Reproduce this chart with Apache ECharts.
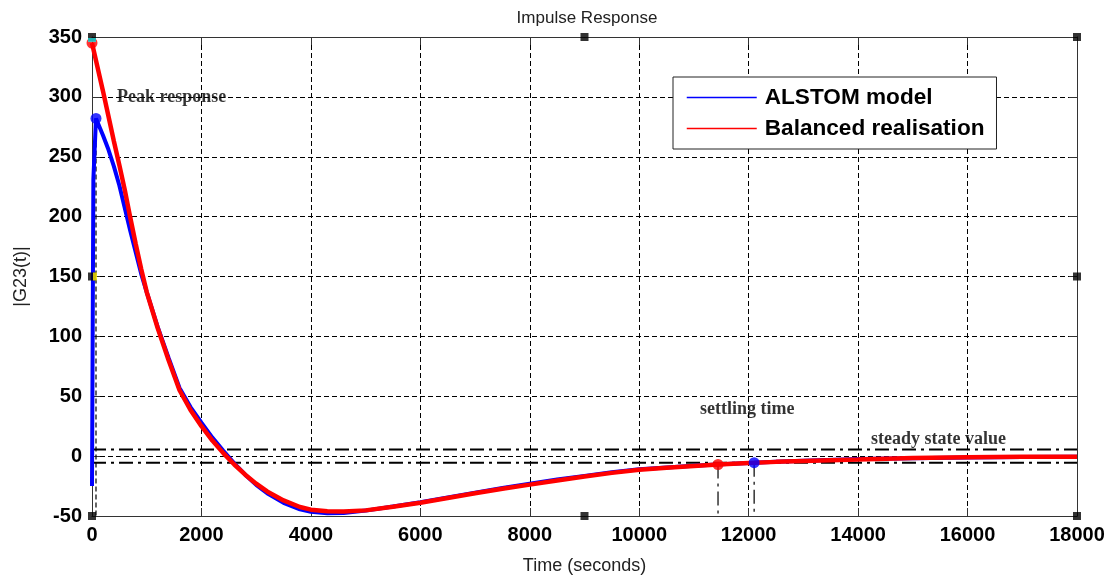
<!DOCTYPE html>
<html><head><meta charset="utf-8">
<script src="https://cdn.jsdelivr.net/npm/echarts@6/dist/echarts.min.js"></script>
<style>html,body{margin:0;padding:0;background:#fff}#c{width:1114px;height:581px}</style>
</head><body><div id="c"></div>
<script>
// ---- data ----
const xTicks = [0, 2000, 4000, 6000, 8000, 10000, 12000, 14000, 16000, 18000];
const yTicks = [-50, 0, 50, 100, 150, 200, 250, 300, 350];

const tRed = [0,100,200,300,400,500,600,700,800,900,1000,1200,1400,1600,1800,2000,2200,2400,2600,2800,3000,3200,3500,3800,4000,4300,4600,5000,5500,6000,6500,7000,7500,8000,8500,9000,9500,10000,10500,11000,11440,12000,12500,13000,14000,15000,16000,17000,18000];
const gRed = [345,325,305,284,263,243,222,199,177,156,137,107,80,55,38.5,25,13,2.5,-7,-15.5,-23,-29.5,-37,-42.5,-44.7,-46,-46.3,-45.3,-42.3,-39,-35,-31,-27.2,-23.8,-20.3,-17,-14,-11.3,-9.8,-8.3,-7,-5.8,-4.8,-4,-2.9,-1.6,-0.9,-0.6,-0.5];

const tBlue = [0,25,73,200,300,400,500,600,700,800,900,1000,1200,1400,1600,1800,2000,2200,2400,2600,2800,3000,3200,3500,3800,4000,4300,4600,5000,5500,6000,6500,7000,7500,8000,8500,9000,9500,10000,10500,11000,11500,12100,12500,13000,14000,15000,16000,17000,18000];
const gBlue = [-25,231,282,268,256,242,226,207,188,170,152,137,108,82,57,41,28,15.5,4.5,-6,-15.5,-24,-31,-39,-44.5,-46.5,-47.8,-47.5,-45.5,-42,-38.5,-34.5,-30.5,-26.5,-23,-19.5,-16.5,-13.5,-11,-9.5,-8,-6.7,-5.5,-4.6,-3.8,-2.5,-1.7,-1.2,-0.8,-0.5];

const peakRed = [0, 345];
const peakBlue = [73, 282];
const settleRed = [11440, -7];
const settleBlue = [12100, -5.5];
const bandHalf = 5.5;
const handles = [[0,350],[9000,350],[18000,350],[18000,150],[18000,-50],[9000,-50],[0,-50],[0,150]];
const noteText = ['Peak response', 'settling time', 'steady state value'];
const noteT = [457, 11110, 14236];
const noteG = [300, 39, 14];
const legendNames = ['ALSTOM model', 'Balanced realisation'];
const seriesColors = ['#0000ff', '#ff0000'];

// ---- build ----
const zip = (a, b) => a.map((v, i) => [v, b[i]]);
const xMin = xTicks[0], xMax = xTicks[xTicks.length - 1];
const yMin = yTicks[0], yMax = yTicks[yTicks.length - 1];
const dashDot = [14, 5, 3, 5];
const axisCol = '#333';

function guide(data, width, type) {
  return { type: 'line', data, symbol: 'none', silent: true, clip: false, z: 4,
    lineStyle: { color: '#000', width, type }, legendHoverLink: false, tooltip: { show: false } };
}

const chart = echarts.init(document.getElementById('c'), null, { renderer: 'canvas' });
chart.setOption({
  animation: false,
  backgroundColor: '#fff',
  title: { text: 'Impulse Response', left: 582, top: 5, textAlign: 'center',
    textStyle: { fontFamily: 'Liberation Sans, Arial', fontSize: 17, fontWeight: 'normal', color: '#222' } },
  grid: { left: 92, right: 37, top: 37, bottom: 65, show: false },
  legend: {
    data: legendNames,
    orient: 'vertical', left: 673, top: 77, itemWidth: 70, itemHeight: 14, itemGap: 8,
    lineStyle: { width: 1.5 },
    itemStyle: { opacity: 0 },
    padding: [9, 12, 9, 13], borderColor: '#222', borderWidth: 1, backgroundColor: '#fff',
    textStyle: { fontFamily: 'Liberation Sans, Arial', fontSize: 22.6, fontWeight: 'bold', color: '#000', lineHeight: 22, padding: [0, 0, 0, 3] },
    selectedMode: false
  },
  xAxis: [{
    type: 'value', min: xMin, max: xMax, interval: xTicks[1] - xTicks[0],
    name: 'Time (seconds)', nameLocation: 'middle', nameGap: 41,
    nameTextStyle: { fontFamily: 'Liberation Sans, Arial', fontSize: 18, color: '#222' },
    axisLine: { show: true, onZero: false, lineStyle: { color: axisCol, width: 1 } },
    axisTick: { show: true, inside: true, length: 8, lineStyle: { color: axisCol } },
    axisLabel: { margin: 9, fontFamily: 'Liberation Sans, Arial', fontSize: 20, fontWeight: 'bold', color: '#000', formatter: v => String(v) },
    splitLine: { show: true, lineStyle: { color: '#000', type: [5, 3], width: 1 } }
  }, {
    type: 'value', position: 'top', min: xMin, max: xMax, interval: xTicks[1] - xTicks[0],
    axisLine: { show: true, onZero: false, lineStyle: { color: axisCol, width: 1 } },
    axisTick: { show: true, inside: true, length: 8, lineStyle: { color: axisCol } },
    axisLabel: { show: false }, splitLine: { show: false }
  }],
  yAxis: [{
    type: 'value', min: yMin, max: yMax, interval: yTicks[1] - yTicks[0],
    name: '|G23(t)|', nameLocation: 'middle', nameGap: 62, nameRotate: 90,
    nameTextStyle: { fontFamily: 'Liberation Sans, Arial', fontSize: 18, color: '#222' },
    axisLine: { show: true, onZero: false, lineStyle: { color: axisCol, width: 1 } },
    axisTick: { show: true, inside: true, length: 8, lineStyle: { color: axisCol } },
    axisLabel: { margin: 10, fontFamily: 'Liberation Sans, Arial', fontSize: 20, fontWeight: 'bold', color: '#000' },
    splitLine: { show: true, lineStyle: { color: '#000', type: [5, 3], width: 1 } }
  }, {
    type: 'value', position: 'right', min: yMin, max: yMax, interval: yTicks[1] - yTicks[0],
    axisLine: { show: true, onZero: false, lineStyle: { color: axisCol, width: 1 } },
    axisTick: { show: true, inside: true, length: 8, lineStyle: { color: axisCol } },
    axisLabel: { show: false }, splitLine: { show: false }
  }],
  series: [
    guide([[xMin, bandHalf], [xMax, bandHalf]], 2, dashDot),
    guide([[xMin, -bandHalf], [xMax, -bandHalf]], 2, dashDot),
    guide([peakBlue, [peakBlue[0], yMin]], 1.2, [5, 3]),
    guide([settleRed, [settleRed[0], yMin]], 1.2, dashDot),
    guide([settleBlue, [settleBlue[0], yMin]], 1.2, dashDot),
    { name: legendNames[0], type: 'line', data: zip(tBlue, gBlue), symbol: 'none', z: 5, clip: false,
      color: seriesColors[0], itemStyle: { color: seriesColors[0] }, lineStyle: { color: seriesColors[0], width: 4 } },
    { name: legendNames[1], type: 'line', data: zip(tRed, gRed), symbol: 'none', z: 6, clip: false,
      color: seriesColors[1], itemStyle: { color: seriesColors[1] }, lineStyle: { color: seriesColors[1], width: 4.5 } },
    { type: 'scatter', data: [peakBlue, settleBlue], symbol: 'circle', symbolSize: 11, z: 7, clip: false,
      itemStyle: { color: seriesColors[0] }, silent: true },
    { type: 'scatter', data: [peakRed, settleRed], symbol: 'circle', symbolSize: 11, z: 8, clip: false,
      itemStyle: { color: seriesColors[1] }, silent: true },
    { type: 'scatter', data: handles, symbol: 'rect', symbolSize: 8, z: 9, clip: false,
      itemStyle: { color: '#000' }, silent: true },
    { type: 'scatter', data: [handles[0]], symbol: 'rect', symbolSize: [8, 4], symbolOffset: [0, 3], z: 10, clip: false,
      itemStyle: { color: '#22dddd' }, silent: true },
    { type: 'scatter', data: [handles[7]], symbol: 'rect', symbolSize: [4, 8], symbolOffset: [3, 0], z: 10, clip: false,
      itemStyle: { color: '#ffee00' }, silent: true },
    { type: 'scatter', data: noteT.map((t, i) => ({ value: [t, noteG[i]], name: noteText[i] })),
      symbolSize: 0.01, z: 11, silent: true,
      label: { show: true, position: 'right', distance: 0, formatter: p => p.name,
        fontFamily: 'Liberation Serif, Times New Roman', fontWeight: 'bold', fontSize: 18, color: '#000' } }
  ]
});
</script></body></html>
